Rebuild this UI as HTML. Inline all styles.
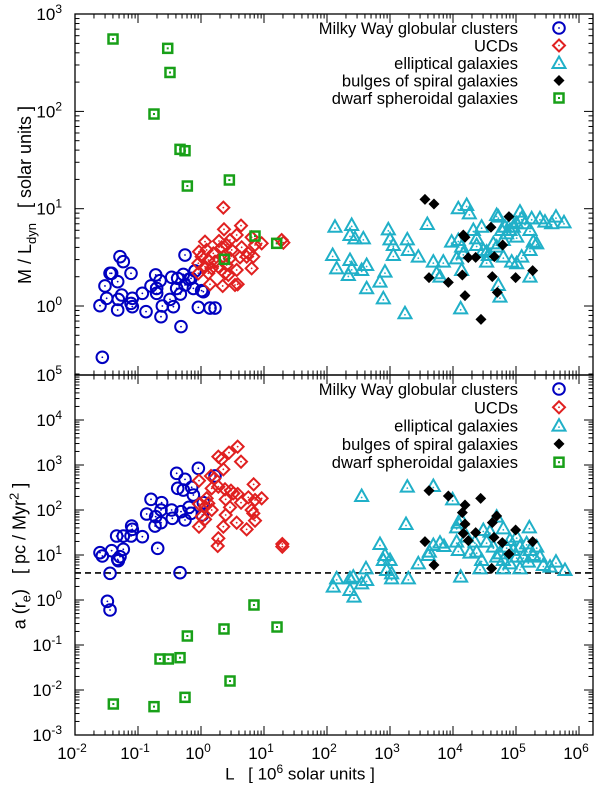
<!DOCTYPE html>
<html><head><meta charset="utf-8"><style>
html,body{margin:0;padding:0;background:#fff}
svg{display:block;font-family:"Liberation Sans",Arial,sans-serif}
</style></head><body>
<svg id="chart" width="600" height="791" viewBox="0 0 600 791" xmlns="http://www.w3.org/2000/svg"></svg>
<script>
// ---- data (log10 values) ----
const xTickExps = [-2,-1,0,1,2,3,4,5,6];
const topYTickExps = [0,1,2,3];
const botYTickExps = [-3,-2,-1,0,1,2,3,4,5];
const legendLabels = ["Milky Way globular clusters","UCDs","elliptical galaxies","bulges of spiral galaxies","dwarf spheroidal galaxies"];
const accelThreshold = 4;
// readings were taken on a slightly mis-measured decade; correction factor
const readScale = 64.75 / 63;
const cal = v => (v + 2) * readScale - 2;

// top panel: M/L
const gcTopLogL = [-1.614,-1.511,-1.537,-1.459,-1.434,-1.341,-1.341,-1.305,-1.254,-1.279,-1.331,-1.135,-1.115,-1.135,-1.115,-0.96,-0.903,-0.826,-0.754,-0.739,-0.739,-0.687,-0.672,-0.651,-0.533,-0.507,-0.481,-0.43,-0.414,-0.373,-0.363,-0.327,-0.301,-0.301,-0.239,-0.208,-0.172,-0.147,-0.095,-0.044,-0.018,0.085,0.162,-1.578].map(cal);
const gcTopLogML = [0.003,0.079,0.206,0.336,0.336,0.25,-0.041,0.507,0.456,0.113,0.068,0.336,0.079,0.027,-0.007,0.13,-0.058,0.206,0.319,0.181,0.13,0.26,-0.11,0,0.068,0.295,-0.007,0.181,0.284,0.123,-0.212,0.325,0.524,0.216,0.274,0.284,0.181,0.36,-0.014,0.158,0.147,-0.021,-0.021,-0.527];
const ucdTopLogL = [0.291,0.564,0.301,0.008,0.224,0.394,0.497,0.728,0.883,1.192,1.218,-0.085,0.033,0.136,0.265,0.342,0.42,0.574,0.677,0.78,-0.044,0.059,0.162,0.291,0.394,0.548,0.651,0.754,-0.095,0.008,0.111,0.214,0.342,0.497,0.728,-0.095,0.059,0.317,0.368,0.085,0.281,0.471,0.512].map(cal);
const ucdTopLogML = [1.011,0.826,0.788,0.661,0.668,0.678,0.73,0.706,0.644,0.678,0.651,0.558,0.576,0.541,0.603,0.627,0.576,0.603,0.541,0.627,0.507,0.473,0.456,0.507,0.49,0.5,0.507,0.507,0.439,0.404,0.387,0.404,0.421,0.37,0.387,0.336,0.336,0.336,0.319,0.223,0.206,0.216,0.223];
const ellTopLogL = [2.015,2.273,2.247,2.324,2.453,1.979,2.247,2.041,2.273,2.221,2.427,2.504,2.504,2.710,2.787,2.762,2.839,2.865,2.916,2.916,3.132,3.148,3.302,3.096,3.441,3.920,4.049,4.090,3.534,3.688,3.585,3.637,3.817,3.920,3.971,3.894,3.997,3.971,3.956,4.152,4.280,4.203,4.203,4.306,4.357,4.383,4.461,4.512,4.538,4.589,4.641,4.666,4.718,4.744,4.769,4.821,4.872,4.898,4.950,5.027,5.053,5.181,5.258,5.361,5.428,5.552,4.615,4.744,4.821,4.898,5.027,5.078,5.130,5.027,4.538,4.563,4.357,4.512,4.821,4.615].map(cal);
const ellTopLogML = [0.815,0.833,0.730,0.695,0.695,0.524,0.473,0.387,0.387,0.319,0.370,0.421,0.182,0.250,0.353,0.079,0.788,0.685,0.627,0.524,0.685,0.576,0.507,-0.075,0.843,1.004,1.038,0.952,0.456,0.456,0.336,0.302,0.661,0.678,0.610,0.490,0.541,0.370,-0.024,0.781,0.815,0.695,0.627,0.576,0.456,0.524,0.644,0.935,0.918,0.781,0.815,0.747,0.781,0.867,0.815,0.850,0.970,0.901,0.850,0.781,0.901,0.901,0.867,0.850,0.918,0.860,0.507,0.456,0.439,0.507,0.576,0.661,0.644,0.302,0.216,0.096,0.558,0.610,0.713,0.678];
const bulTopLogL = [3.405,3.544,3.997,4.023,4.424,4.702,4.605,4.074,4.188,4.476,3.467,3.766,3.982,4.445,4.805,5.068,4.023,4.522,4.270].map(cal);
const bulTopLogML = [1.096,1.048,0.730,0.706,0.809,0.918,0.627,0.497,0.500,0.507,0.291,0.243,0.319,0.302,0.291,0.363,0.106,0.140,-0.137];
const dsphTopLogL = [-1.413,-0.568,-0.533,-0.78,-0.378,-0.301,-0.265,0.384,0.78,1.115,0.306].map(cal);
const dsphTopLogML = [2.744,2.648,2.40,1.973,1.61,1.596,1.233,1.295,0.719,0.644,0.48];

// bottom panel: acceleration
const gcBotLogL = [-1.614,-1.578,-1.434,-1.341,-1.305,-1.331,-1.254,-1.357,-1.254,-1.125,-1.115,-1.135,-0.96,-0.893,-0.826,-0.754,-0.764,-0.672,-0.723,-0.662,-0.672,-0.507,-0.497,-0.43,-0.414,-0.363,-0.301,-0.327,-0.301,-0.239,-0.208,-0.198,-0.172,-0.095,-0.033,-0.018,0.162,-1.459,-0.378,-1.459,-1.5].map(cal);
const gcBotLogA = [1.052,0.978,1.096,0.903,0.963,0.874,1.126,1.422,1.422,1.644,1.57,1.422,1.407,1.911,2.237,1.852,1.644,1.718,1.148,2.163,2.0,2.0,1.815,2.815,2.481,1.963,2.681,2.444,1.778,2.059,1.926,2.504,2.333,2.926,1.889,2.163,2.756,0.593,0.607,-0.222,-0.03];
const ucdBotLogL = [0.512,0.378,0.564,0.214,0.265,0.291,0.1,0.152,-0.085,0.111,0.214,0.317,0.409,0.512,0.759,0.677,0.78,0.883,0.327,0.564,-0.085,0.033,0.008,0.111,0.394,0.728,0.754,-0.044,0.008,0.327,0.497,0.78,-0.085,0.291,0.651,0.214,0.204,1.202,1.202,0.059,0.445].map(cal);
const ucdBotLogA = [3.407,3.274,3.074,3.185,3.126,2.904,2.756,2.704,2.652,2.481,2.518,2.459,2.43,2.356,2.57,2.281,2.222,2.259,2.237,2.163,2.133,2.259,2.074,2.0,2.059,2.0,1.926,1.852,1.793,1.889,1.718,1.763,1.63,1.63,1.57,1.37,1.2,1.244,1.185,2.148,2.37];
const ellBotLogL = [2.427,3.132,3.534,3.832,3.112,2.710,2.787,2.762,2.865,2.813,2.890,2.890,2.494,2.504,2.427,3.148,3.302,3.457,3.472,3.534,3.637,3.699,3.956,3.894,3.920,3.971,3.894,3.920,4.100,4.203,4.280,4.255,4.306,4.409,4.512,4.615,4.357,4.461,4.563,4.615,4.615,4.718,4.769,4.821,4.872,4.924,4.975,5.027,5.078,5.130,5.181,5.017,4.872,5.233,5.336,5.428,5.567,4.718,4.512,2.041,2.247,2.298,1.989,2.247,2.309,4.177,4.049,4.821,4.667,5.001].map(cal);
const ellBotLogA = [2.311,2.519,2.533,2.237,1.689,1.244,1.0,0.889,0.889,0.667,0.593,0.481,0.704,0.444,0.37,0.481,0.815,1.0,1.074,1.222,1.274,1.2,0.519,1.615,1.719,1.778,1.296,1.111,1.052,1.074,0.889,0.704,1.556,1.519,1.852,1.593,1.296,1.185,1.037,0.889,0.704,1.333,1.111,1.407,1.185,0.963,1.259,1.111,1.0,1.185,0.963,1.615,0.704,0.778,0.741,0.852,0.667,0.815,0.963,0.481,0.481,0.519,0.296,0.222,0.074,1.296,1.407,0.963,1.185,0.852];
const bulBotLogL = [3.467,3.766,4.265,4.023,3.982,4.023,4.512,4.445,3.997,4.188,4.805,4.074,4.471,4.6,5.068,3.405,4.702,3.544,4.435].map(cal);
const bulBotLogA = [2.43,2.311,2.259,2.111,1.941,1.689,1.867,1.719,1.481,1.496,1.556,1.319,1.393,1.274,1.296,1.296,1.022,0.778,0.704];
const dsphBotLogL = [-1.408,-0.78,-0.301,-0.265,-0.559,-0.378,-0.687,0.301,0.764,1.12,0.394].map(cal);
const dsphBotLogA = [-2.311,-2.37,-2.163,-0.8,-1.311,-1.282,-1.311,-0.644,-0.111,-0.6,-1.8];

// ---- axes ----
const L=75,R=593,T1=14,B1=375,T2=375,B2=735;
const DEC=63;
const X = lx => L + (lx + 2) * DEC;
const Ytop = ly => 306 - ly * 97.3;
const Ybot = ly => 600 - ly * 45;
const NS="http://www.w3.org/2000/svg";
const svg=document.getElementById('chart');
function mk(tag, attrs, parent){const e=document.createElementNS(NS,tag);for(const k in attrs)e.setAttribute(k,attrs[k]);(parent||svg).appendChild(e);return e;}

const colors={gc:"#0000c0",ucd:"#e02020",ell:"#20b0c8",bul:"#000",dsph:"#18a018"};
function marker(kind,cx,cy,g){
  let e;
  if(kind==='gc'){e=mk('circle',{cx:cx,cy:cy,r:5.8,fill:'none',stroke:colors.gc,'stroke-width':2},g);mk('circle',{cx:cx,cy:cy,r:0.9,fill:colors.gc},g);}
  else if(kind==='ucd'){e=mk('path',{d:`M${cx} ${cy-6}L${cx+6} ${cy}L${cx} ${cy+6}L${cx-6} ${cy}Z`,fill:'none',stroke:colors.ucd,'stroke-width':2},g);mk('circle',{cx:cx,cy:cy,r:0.9,fill:colors.ucd},g);}
  else if(kind==='ell'){e=mk('path',{d:`M${cx} ${cy-6.5}L${cx+6.5} ${cy+5}L${cx-6.5} ${cy+5}Z`,fill:'none',stroke:colors.ell,'stroke-width':2},g);mk('circle',{cx:cx,cy:cy+1.5,r:0.9,fill:colors.ell},g);}
  else if(kind==='bul'){e=mk('path',{d:`M${cx} ${cy-5.5}L${cx+5.5} ${cy}L${cx} ${cy+5.5}L${cx-5.5} ${cy}Z`,fill:'#000'},g);}
  else {e=mk('rect',{x:cx-4.5,y:cy-4.5,width:9,height:9,fill:'none',stroke:colors.dsph,'stroke-width':2.5},g);mk('rect',{x:cx-1,y:cy-1,width:2,height:2,fill:colors.dsph},g);}
  return e;
}
function series(kind,xs,ys,Yf,name){
  const g=mk('g',{});
  
  
  for(let i=0;i<xs.length;i++){
    const e=marker(kind,X(xs[i]),Yf(ys[i]),g);
    
    
  }
}

function frame(top,bot,Yf,yExps,panel){
  const g=mk('g',{});
  
  
  mk('rect',{x:L,y:top,width:R-L,height:bot-top,fill:'none',stroke:'#000','stroke-width':1.3},g);
  for(let d=-2;d<=6;d++){
    for(let m=1;m<=9;m++){
      const lx=d+Math.log10(m);
      const x=X(lx), len=m===1?9:4.5;
      if(x<=L+0.5||x>=R-0.5)continue;
      mk('line',{x1:x,y1:bot,x2:x,y2:bot-len,stroke:'#000','stroke-width':1},g);
      mk('line',{x1:x,y1:top,x2:x,y2:top+len,stroke:'#000','stroke-width':1},g);
    }
  }
  const lo=yExps[0],hi=yExps[yExps.length-1];
  for(let d=lo-1;d<=hi;d++){
    for(let m=1;m<=9;m++){
      const ly=d+Math.log10(m); const y=Yf(ly);
      if(y>bot-0.5||y<top+0.5)continue;
      const len=m===1?9:4.5;
      mk('line',{x1:L,y1:y,x2:L+len,y2:y,stroke:'#000','stroke-width':1},g);
      mk('line',{x1:R,y1:y,x2:R-len,y2:y,stroke:'#000','stroke-width':1},g);
    }
  }
  yExps.forEach(e=>{
    const t=mk('text',{x:62,y:Yf(e)+6,'text-anchor':'end','font-size':17},g);
    
    
    t.textContent='10';
    const s=mk('tspan',{dy:-7,'font-size':12},t); s.textContent=String(e);
  });
}
frame(T1,B1,Ytop,topYTickExps,'top');
frame(T2,B2,Ybot,botYTickExps,'bottom');

xTickExps.forEach(e=>{
  const t=mk('text',{x:X(e)-3,y:759,'text-anchor':'middle','font-size':17});
  
  
  t.textContent='10';
  const s=mk('tspan',{dy:-7,'font-size':12}); t.appendChild(s); s.textContent=String(e);
});

const dl=mk('line',{x1:L,x2:R,y1:Ybot(Math.log10(accelThreshold)),y2:Ybot(Math.log10(accelThreshold)),stroke:'#000','stroke-width':1.6,'stroke-dasharray':'6,4'});



series('ell',ellTopLogL,ellTopLogML,Ytop,'top-elliptical-galaxies');
series('bul',bulTopLogL,bulTopLogML,Ytop,'top-spiral-bulges');
series('gc',gcTopLogL,gcTopLogML,Ytop,'top-globular-clusters');
series('ucd',ucdTopLogL,ucdTopLogML,Ytop,'top-ucds');
series('dsph',dsphTopLogL,dsphTopLogML,Ytop,'top-dwarf-spheroidals');
series('ell',ellBotLogL,ellBotLogA,Ybot,'bottom-elliptical-galaxies');
series('bul',bulBotLogL,bulBotLogA,Ybot,'bottom-spiral-bulges');
series('gc',gcBotLogL,gcBotLogA,Ybot,'bottom-globular-clusters');
series('ucd',ucdBotLogL,ucdBotLogA,Ybot,'bottom-ucds');
series('dsph',dsphBotLogL,dsphBotLogA,Ybot,'bottom-dwarf-spheroidals');

const kinds=['gc','ucd','ell','bul','dsph'];
function legend(y0,step,panel){
  legendLabels.forEach((lab,i)=>{
    const g=mk('g',{});
    
    
    const y=y0+i*step;
    const t=mk('text',{x:518,y:y+6,'text-anchor':'end','font-size':16.5},g); t.textContent=lab;
    marker(kinds[i],559,y,g);
  });
}
legend(28,17.5,'top');
legend(389,18.3,'bottom');
</script>
<div style="position:absolute;left:0;top:762px;width:600px;text-align:center;font:17px 'Liberation Sans',sans-serif;white-space:pre">L   [ 10<sup style="font-size:12px">6</sup> solar units ]</div>
<div style="position:absolute;left:27px;top:195px;transform:translate(-50%,-50%) rotate(-90deg);font:18px 'Liberation Sans',sans-serif;white-space:pre">M / L<sub style="font-size:13px">dyn</sub>   [ solar units ]</div>
<div style="position:absolute;left:20px;top:556px;transform:translate(-50%,-50%) rotate(-90deg);font:18px 'Liberation Sans',sans-serif;white-space:pre">a (r<sub style="font-size:13px">e</sub>)   [ pc / Myr<sup style="font-size:13px">2</sup> ]</div>
</body></html>
